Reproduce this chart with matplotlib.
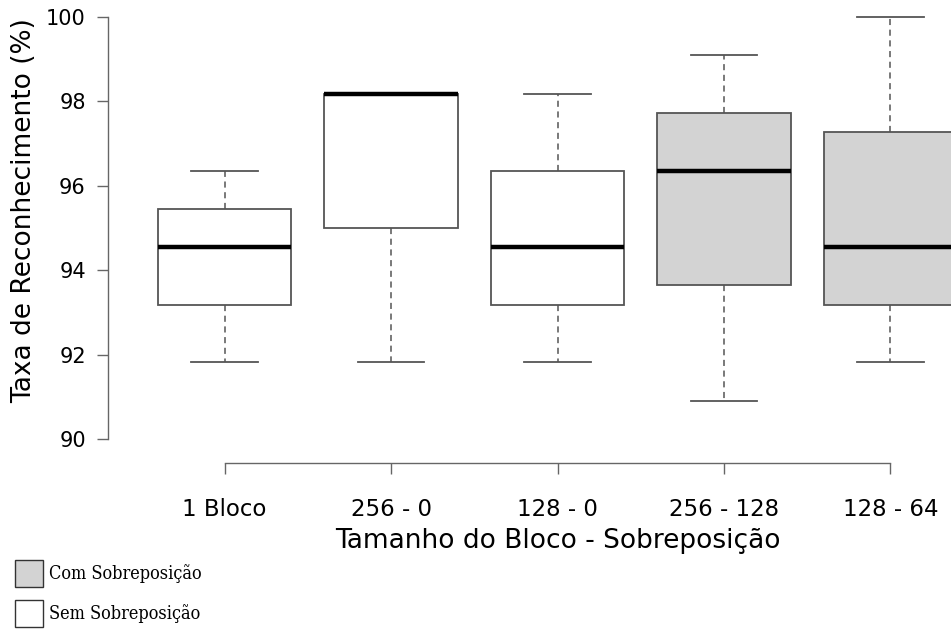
import matplotlib
matplotlib.use('Agg')
import matplotlib.pyplot as plt
from matplotlib.patches import Rectangle

# box statistics (whisker low, q1, median, q3, whisker high)
labels = ['1 Bloco', '256 - 0', '128 - 0', '256 - 128', '128 - 64']
whislo = [91.82, 91.82, 91.82, 90.91, 91.82]
q1 = [93.18, 95.00, 93.18, 93.64, 93.18]
med = [94.55, 98.18, 94.55, 96.36, 94.55]
q3 = [95.45, 98.18, 96.36, 97.73, 97.27]
whishi = [96.36, 98.18, 98.18, 99.09, 100.0]
overlap = [False, False, False, True, True]

yticks = [90, 92, 94, 96, 98, 100]
legend_labels = ['Com Sobreposição', 'Sem Sobreposição']

GRAY = '#d3d3d3'
EDGE = '#555555'

W, H = 951, 630
fig = plt.figure(figsize=(W / 100, H / 100), dpi=100)
ax = fig.add_axes([108 / W, (H - 456) / H, 899 / W, 456 / H])

stats = []
for i in range(len(labels)):
	stats.append(dict(whislo=whislo[i], q1=q1[i], med=med[i], q3=q3[i],
					  whishi=whishi[i], fliers=[], label=labels[i]))

bp = ax.bxp(stats, positions=range(1, 6), widths=0.8, patch_artist=True,
			showfliers=False,
			boxprops=dict(edgecolor=EDGE, linewidth=1.3),
			medianprops=dict(color='black', linewidth=3.2, solid_capstyle='butt'),
			whiskerprops=dict(color=EDGE, linewidth=1.1, linestyle=(0, (4, 3))),
			capprops=dict(color=EDGE, linewidth=1.3),
			capwidths=0.4)

for patch, ov in zip(bp['boxes'], overlap):
	patch.set_facecolor(GRAY if ov else 'white')

ax.set_xlim(0.3, 5.7)
ax.set_ylim(89.6, 100.4)

for s in ['top', 'right']:
	ax.spines[s].set_visible(False)
ax.spines['left'].set_bounds(90, 100)
ax.spines['bottom'].set_bounds(1, 5)
ax.spines['bottom'].set_position(('outward', 5))
for s in ['left', 'bottom']:
	ax.spines[s].set_color('#666666')
	ax.spines[s].set_linewidth(1.0)

ax.set_yticks(yticks)
ax.set_yticklabels([str(v) for v in yticks])
ax.set_xticks(range(1, 6))
ax.set_xticklabels(labels)
ax.tick_params(axis='y', length=8, width=1.0, color='#666666', pad=8, labelsize=15)
ax.tick_params(axis='x', length=8, width=1.0, color='#666666', pad=17, labelsize=16.5)

ax.set_ylabel('Taxa de Reconhecimento (%)', fontsize=19)
ax.yaxis.set_label_coords(-0.079, 1 - 211 / 456)
ax.set_xlabel('Tamanho do Bloco - Sobreposição', fontsize=19, labelpad=5)

# legend squares at bottom left
for j, (lab, col) in enumerate(zip(legend_labels, [GRAY, 'white'])):
	y0 = H - 587 - j * 40
	fig.patches.append(Rectangle((15 / W, y0 / H), 28 / W, 27 / H, transform=fig.transFigure,
								 facecolor=col, edgecolor='#333333', linewidth=1.0))
	fig.text(49 / W, (y0 + 13.5) / H, lab, va='center', ha='left', fontsize=13,
			 family='DejaVu Serif', fontstretch='condensed')

fig.savefig('out.png', dpi=100)
